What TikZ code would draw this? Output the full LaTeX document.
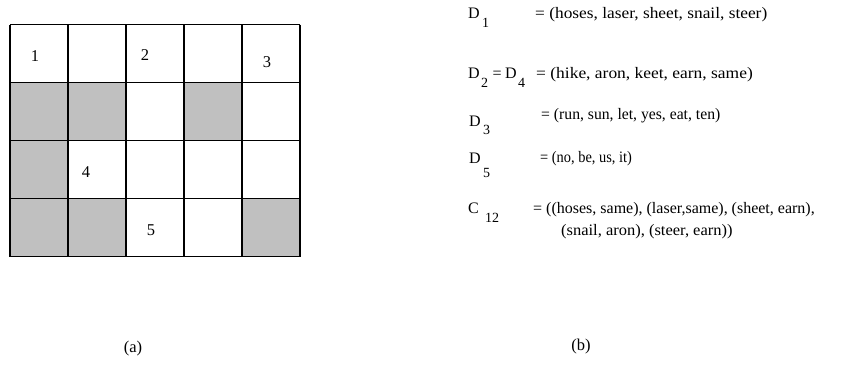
\documentclass[tikz,border=0pt]{standalone}
\usepackage{fontspec}
\setmainfont{Liberation Serif}
\definecolor{cellgray}{HTML}{C0C0C0}
\tikzset{
  txt/.style={anchor=base west, inner sep=0pt, font=\fontsize{16}{19}\selectfont},
  subtxt/.style={anchor=base west, inner sep=0pt, font=\fontsize{14}{16}\selectfont},
  num/.style={inner sep=0pt, font=\fontsize{16.5}{19}\selectfont},
  captxt/.style={inner sep=0pt, font=\fontsize{16.5}{19}\selectfont},
  gridline/.style={line width=1.1pt, draw=black}
}
\begin{document}
\begin{tikzpicture}[x=1pt,y=-1pt]
\useasboundingbox (0,0) rectangle (842,383);
% gray cells
\foreach \c/\r in {0/1,1/1,3/1,0/2,0/3,1/3,4/3}{
  \fill[cellgray] (10+58*\c,24.5+58*\r) rectangle ++(58,58);
}
% grid
\foreach \i in {0,...,5}{ \draw[gridline] (10+58*\i,24.5) -- (10+58*\i,256.5); }
\foreach \j in {0,...,4}{ \draw[gridline] (10,24.5+58*\j) -- (300,24.5+58*\j); }
% numbers
\node[num] (n1) at (35,56) {1};
\node[num] (n2) at (145,55) {2};
\node[num] (n3) at (267,62) {3};
\node[num] (n4) at (86,172) {4};
\node[num] (n5) at (151,230) {5};
% right side
\node[txt] (d1) at (468,18) {D};
\node[subtxt] (d1s) at (482,27) {1};
\node[txt] (e1) at (535,18) {\scalebox{1.084}[1]{= (hoses, laser, sheet, snail, steer)}};

\node[txt] (d2) at (468,78) {D};
\node[subtxt] (d2s) at (481,87) {2};
\node[txt] (d2e) at (492.5,78) {=};
\node[txt] (d4) at (505,78) {D};
\node[subtxt] (d4s) at (518,87) {4};
\node[txt] (e2) at (536,78) {\scalebox{1.09}[1]{= (hike, aron, keet, earn, same)}};

\node[txt] (d3) at (469,126) {D};
\node[subtxt] (d3s) at (483,134) {3};
\node[txt] (e3) at (541,119) {\scalebox{0.98}[1]{= (run, sun, let, yes, eat, ten)}};

\node[txt] (d5) at (469,163) {D};
\node[subtxt] (d5s) at (483,177) {5};
\node[txt] (e5) at (540,162) {\scalebox{0.9}[1]{= (no, be, us, it)}};

\node[txt] (c12) at (468,213) {C};
\node[subtxt] (c12s) at (485,222) {12};
\node[txt] (e6) at (533,213) {= ((hoses, same), (laser,same), (sheet, earn),};
\node[txt] (e7) at (561,235) {\scalebox{1.03}[1]{(snail, aron), (steer, earn))}};

\node[captxt] (ca) at (133,349) {(a)};
\node[captxt] (cb) at (581,347) {(b)};
\end{tikzpicture}
\end{document}
